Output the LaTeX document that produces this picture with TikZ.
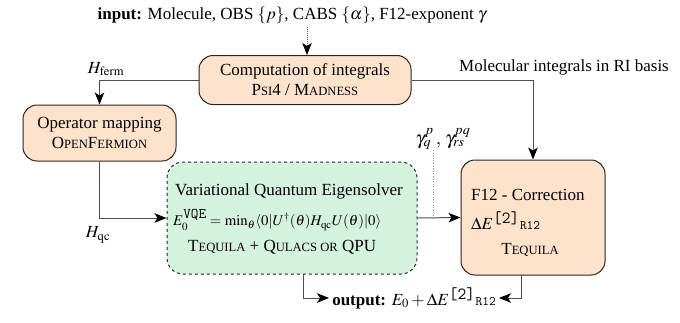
\documentclass[tikz,border=0pt]{standalone}
\usepackage{mathptmx}
\usepackage{fontspec}
\setmainfont{Liberation Serif}
\usetikzlibrary{arrows.meta,calc}
\newcommand\smc[1]{{\fontsize{12.6}{14}\selectfont #1}}
\definecolor{boxorange}{HTML}{FDE3CC}
\definecolor{boxgreen}{HTML}{D3F3DF}
\definecolor{linegray}{HTML}{505050}
\tikzset{
  procbox/.style={draw=black!85, line width=1pt, rounded corners=14pt, fill=boxorange, align=center, inner sep=0pt},
  vqebox/.style={draw=black!85, line width=1pt, dashed, rounded corners=16pt, fill=boxgreen, inner sep=0pt},
  conn/.style={draw=linegray, line width=1pt, -{Stealth[length=12pt,width=9.5pt,inset=3pt,black]}},
  lbl/.style={inner sep=0pt, align=left},
}
\begin{document}
\begin{tikzpicture}[x=1pt,y=-1pt]
\fontsize{17}{21}\selectfont
\useasboundingbox (0,0) rectangle (680,322);
% boxes
\node[procbox, minimum width=212pt, minimum height=49pt] (comp) at (305,80) {};
\node[lbl, align=center] (comptext) at (305,80) {Computation of integrals\\[-1pt]P\smc{SI}4 / M\smc{ADNESS}};
\node[procbox, minimum width=153pt, minimum height=56pt] (op) at (99.5,133) {};
\node[lbl, align=center] (optext) at (99.5,133) {Operator mapping\\[-1pt]O\smc{PEN}F\smc{ERMION}};
\node[vqebox, minimum width=250pt, minimum height=112pt] (vqe) at (292,218) {};
\node[lbl, anchor=west] (vqe1) at (175,191) {Variational Quantum Eigensolver};
\node[lbl, anchor=west] (vqe2) at (173,220) {\fontsize{14.8}{16}\selectfont $E_0^{\texttt{VQE}} = \min_\theta \langle 0|U^\dagger(\theta)H_{\mathrm{qc}}U(\theta)|0\rangle$};
\node[lbl, anchor=west] (vqe3) at (188,247) {T\smc{EQUILA} + Q\smc{ULACS OR} QPU};
\node[procbox, minimum width=144pt, minimum height=115pt] (f12) at (533,217.5) {};
\node[lbl, anchor=west] (f121) at (471,195) {F12 - Correction};
\node[lbl, anchor=west] (f122) at (471,221) {$\Delta E^{\texttt{[2]}}$\texttt{\fontsize{13}{14}\selectfont R12}};
\node[lbl] (f123) at (530,250) {T\smc{EQUILA}};
% labels
\node[lbl] (input) at (292,15) {\textbf{input:} Molecule, OBS $\{p\}$, CABS $\{\alpha\}$, F12-exponent $\gamma$};
\node[lbl] (hferm) at (106,69) {$H_{\mathrm{ferm}}$};
\node[lbl] (hqc) at (98,235) {$H_{\mathrm{qc}}$};
\node[lbl] (gam) at (443,139) {\fontsize{19}{21}\selectfont $\gamma^{p}_{q}\,,\,\gamma^{pq}_{rs}$};
\node[lbl] (molint) at (564,67) {Molecular integrals in RI basis};
\node[lbl] (output) at (414,298) {\textbf{output:} $E_0+\Delta E^{\texttt{[2]}}$\texttt{\fontsize{13}{14}\selectfont R12}};
% connectors
\coordinate (inpt) at (307,27);
\draw[conn, densely dotted] (inpt) -- (inpt |- comp.north);
\draw[conn] (comp.west) -| (op.north);
\draw[conn] (comp.east) -| (f12.north);
\draw[conn] (op.south) |- (vqe.west);
\draw[conn] (vqe.east) -- (f12.west);
\coordinate (dtop) at (433,150);
\draw[draw=black!45, line width=0.6pt, dotted] (dtop) -- (dtop |- vqe.east);
\coordinate (vqeout) at (303,274);
\draw[conn] (vqeout) |- ([xshift=-3pt]output.west);
\coordinate (f12out) at (521,275);
\draw[conn] (f12out) |- ([xshift=3pt]output.east);
\end{tikzpicture}
\end{document}
